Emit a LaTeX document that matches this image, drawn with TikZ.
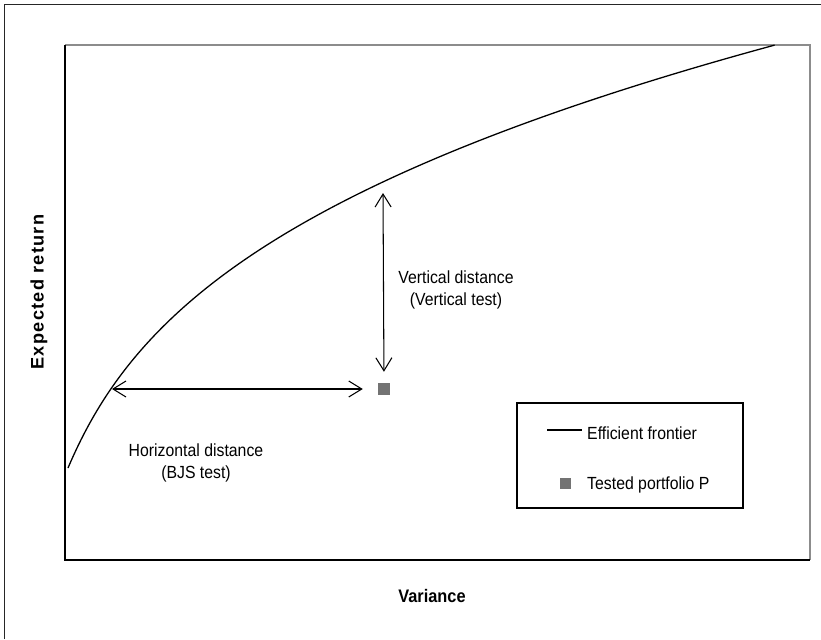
\documentclass[tikz,border=0pt]{standalone}
\usepackage{fontspec}
\setmainfont{Liberation Sans}[FakeStretch=0.9]
\newfontfamily\widefont{Liberation Sans}[LetterSpace=7]
\usetikzlibrary{positioning,arrows.meta}

\begin{document}
\begin{tikzpicture}[x=0.03cm,y=-0.03cm,
    lbl/.style={font=\fontsize{15}{18.7}\selectfont,align=center,inner sep=0pt},
    axlbl/.style={font=\fontsize{15.5}{18}\selectfont\bfseries,inner sep=0pt},
    frontier/.style={line width=1.1pt},
    dist/.style={{Straight Barb[length=3.9mm,width=4.8mm]}-{Straight Barb[length=3.9mm,width=4.8mm]},line width=0.9pt},
    port/.style={fill=black!55,inner sep=0pt,minimum size=0.36cm}]
    \useasboundingbox (0,0) rectangle (821,639);
    % outer frame and plot area
    \draw[line width=1.3pt,black!85] (4.5,639) |- (821,4.5);
    \draw[line width=1pt,black!45] (65,45) -- (810,45) -- (810,560);
    \draw[line width=1.5pt] (65,45) -- (65,560) -- (810,560);
    % efficient frontier
    \draw[frontier] plot[domain=0:4.23,samples=90,smooth]
        ({68+42.514*\x+11.442*\x*\x+4.26*\x*\x*\x},{468-100*\x});
    % tested portfolio and distances
    \node[port] (P) at (384,389) {};
    \coordinate (hL) at (112,389);
    \coordinate (vT) at (383,193);
    \path[dist] (hL) edge[shorten >=4.5mm] (P.west)
                (vT) edge[shorten >=3.3mm] (P.north);
    \node[lbl] (vdist) at (456,290) {Vertical distance\\(Vertical test)};
    \node[lbl] (hdist) at (196,463) {Horizontal distance\\(BJS test)};
    % legend
    \node[draw,line width=0.9pt,minimum width=6.78cm,minimum height=3.15cm,inner sep=0pt] (legend) at (630,455.5) {};
    \coordinate (lnA) at (547,430);
    \coordinate (lnB) at (582,430);
    \draw[line width=0.9pt] (lnA) -- (lnB);
    \node[lbl,anchor=west] (ef) at (587,433) {Efficient frontier};
    \node[port,minimum size=0.33cm] (lsq) at (565,483) {};
    \node[lbl,anchor=west] (tp) at (587,485) {Tested portfolio P};
    % axis titles
    \node[axlbl] (xlab) at (432,596) {Variance};
    \node[axlbl,font=\fontsize{15.5}{18}\selectfont\widefont\bfseries,rotate=90] (ylab) at (39,292) {Expected return};
\end{tikzpicture}
\end{document}
